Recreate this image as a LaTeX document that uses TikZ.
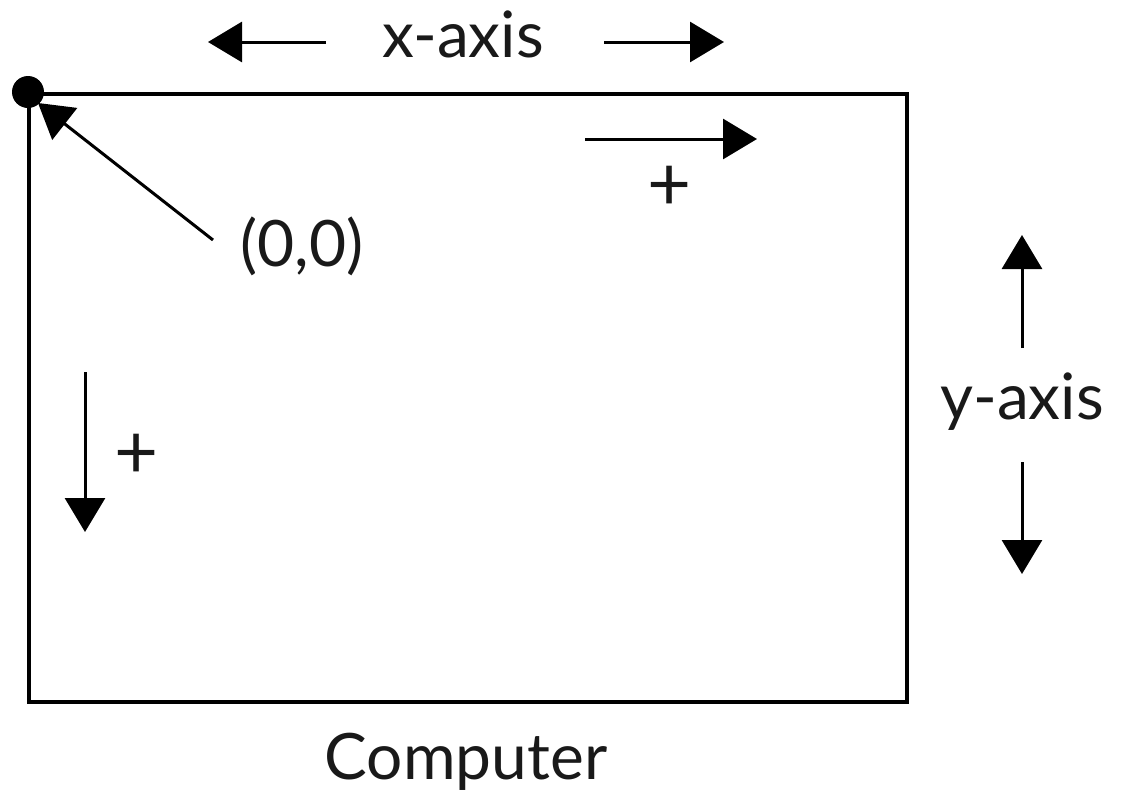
\documentclass[tikz,border=0pt]{standalone}
\usepackage{fontspec}
\setmainfont{Lato}
\newfontfamily\plusfont{Lato Light}
\usetikzlibrary{arrows.meta}
\begin{document}
\begin{tikzpicture}[x=1pt,y=-1pt,
  arr/.style={line width=3pt,-{Triangle[length=34pt,width=40pt]}},
  lbl/.style={font=\fontsize{64}{70}\selectfont, inner sep=0pt, text=black!90},
  plus/.style={font=\fontsize{76}{80}\selectfont, inner sep=0pt, text=black!90}]
\useasboundingbox (0,0) rectangle (1126,801);
\node[draw, line width=3.5pt, minimum width=878pt, minimum height=608pt, inner sep=0pt, anchor=north west] (screen) at (27,92) {};
\coordinate (origin) at (28,92);
\fill (origin) circle[radius=16pt];
\coordinate (ostart) at (213,240);
\draw[arr] (ostart) -- (38,103);
\node[lbl] (zero) at (302,246) {(0,0)};
\node[lbl] (xaxis) at (463,34) {x-axis};
\coordinate (xl1) at (326,42); \coordinate (xl2) at (208,42);
\coordinate (xr1) at (604,42); \coordinate (xr2) at (724,42);
\draw[arr] (xl1) -- (xl2);
\draw[arr] (xr1) -- (xr2);
\coordinate (px1) at (585,139); \coordinate (px2) at (757,139);
\draw[arr] (px1) -- (px2);
\node[plus] (plusx) at (670,188) {+};
\coordinate (py1) at (85,372); \coordinate (py2) at (85,532);
\draw[arr] (py1) -- (py2);
\node[plus] (plusy) at (137,456) {+};
\node[lbl] (yaxis) at (1022,402) {y-axis};
\coordinate (yu1) at (1022,348); \coordinate (yu2) at (1022,235);
\coordinate (yd1) at (1022,462); \coordinate (yd2) at (1022,574);
\draw[arr] (yu1) -- (yu2);
\draw[arr] (yd1) -- (yd2);
\node[lbl] (comp) at (466,762) {Computer};
\end{tikzpicture}
\end{document}
